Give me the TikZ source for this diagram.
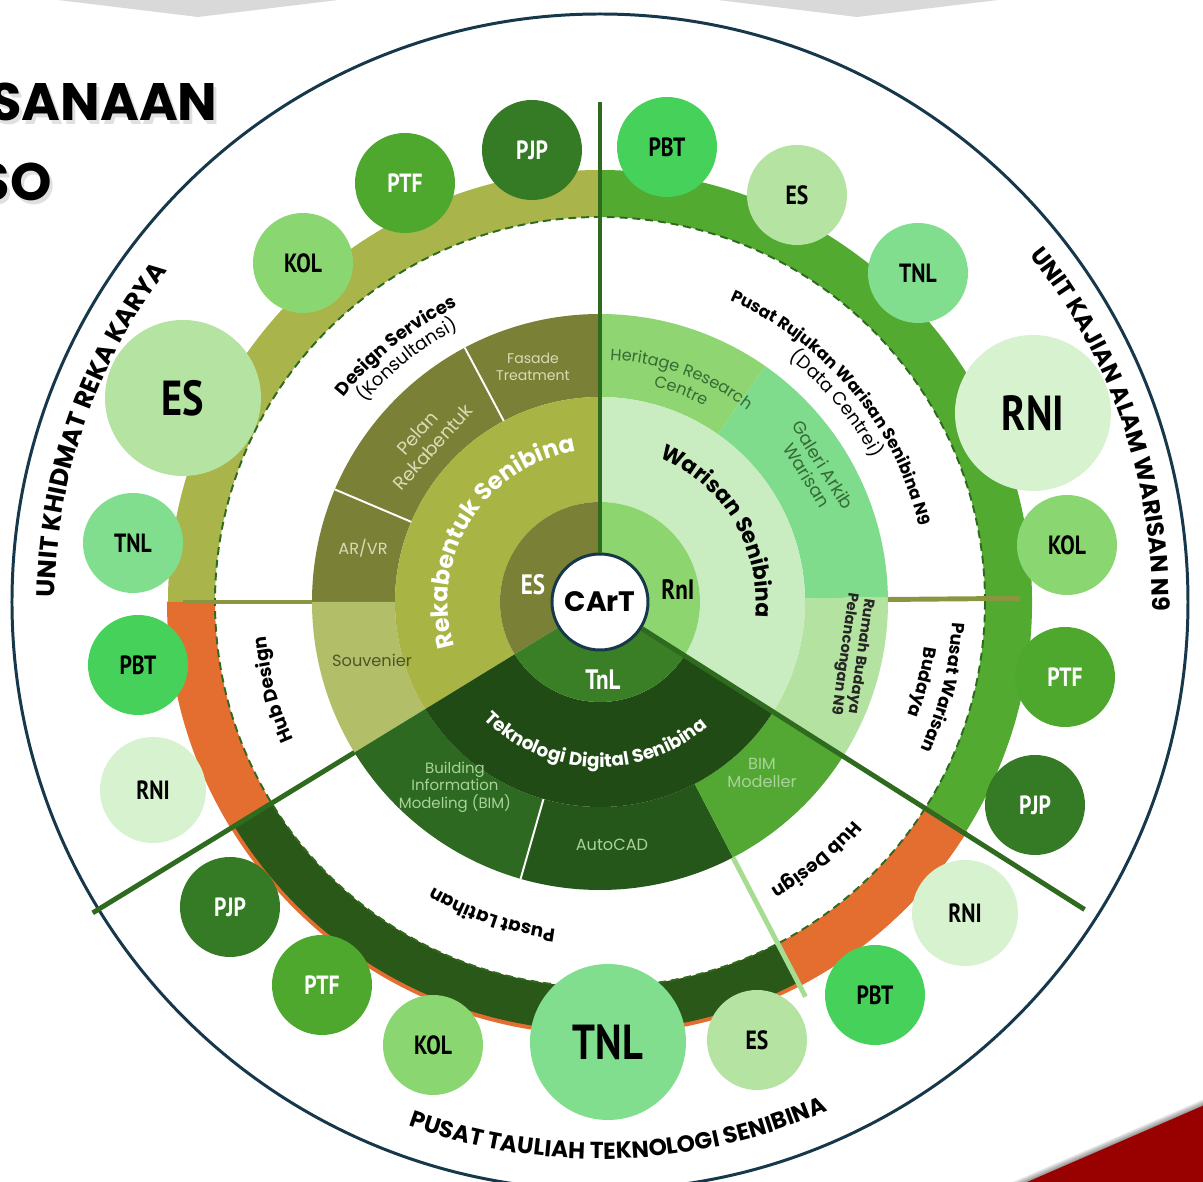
\documentclass[tikz,border=0pt]{standalone}
\usepackage{fontspec}
\setmainfont{Poppins}
\newfontfamily\bubblefont{PT Sans}[FakeStretch=0.82]
\usetikzlibrary{decorations.text}

\definecolor{olivedark}{HTML}{7A8035}
\definecolor{olivemid}{HTML}{A8B545}
\definecolor{olivelight}{HTML}{B3BE68}
\definecolor{olivetext}{HTML}{DADCB6}
\definecolor{olivetextdark}{HTML}{4E5628}
\definecolor{tekdeep}{HTML}{214B15}
\definecolor{tekbuild}{HTML}{2D6920}
\definecolor{tekcad}{HTML}{26571A}
\definecolor{tekcore}{HTML}{3A7E26}
\definecolor{tekbim}{HTML}{52A832}
\definecolor{tektext}{HTML}{A8D39A}
\definecolor{wrcore}{HTML}{8DD56F}
\definecolor{wrpale}{HTML}{C9ECC0}
\definecolor{wrheritage}{HTML}{8FD571}
\definecolor{wrgaleri}{HTML}{7FDC8C}
\definecolor{wrrumah}{HTML}{B4E2A1}
\definecolor{wrtext}{HTML}{356B35}
\definecolor{ringolive}{HTML}{A9B54A}
\definecolor{ringgreen}{HTML}{52AA30}
\definecolor{ringorange}{HTML}{E36E30}
\definecolor{ringdark}{HTML}{2A5818}
\definecolor{splitgreen}{HTML}{2F6B1F}
\definecolor{splitolive}{HTML}{8B9540}
\definecolor{splitpale}{HTML}{A6DD92}
\definecolor{rimline}{HTML}{17384A}
\definecolor{cpjp}{HTML}{357A24}
\definecolor{cptf}{HTML}{4FA82E}
\definecolor{ckol}{HTML}{8AD670}
\definecolor{ces}{HTML}{B4E3A2}
\definecolor{ctnl}{HTML}{80DE8E}
\definecolor{cpbt}{HTML}{46D15B}
\definecolor{crni}{HTML}{D6F2CF}
\definecolor{banner}{HTML}{D9D9D9}
\definecolor{cornerred}{HTML}{990000}

% ring piece: colour, inner radius, outer radius, from angle, to angle
\newcommand\ringpart[5]{%
  \fill[#1] (#4:#3) arc[start angle=#4, end angle=#5, radius=#3]
    -- (#5:#2) arc[start angle=#5, end angle=#4, radius=#2] -- cycle;}

\tikzset{
  bubble/.style={circle, inner sep=0pt, minimum size=2cm,
    font=\bubblefont\bfseries\fontsize{15}{15}\selectfont},
  big bubble/.style={minimum size=3.12cm,
    font=\bubblefont\bfseries\fontsize{28}{28}\selectfont},
  b PJP/.style={fill=cpjp, text=white},
  b PTF/.style={fill=cptf, text=white},
  b KOL/.style={fill=ckol},
  b ES/.style={fill=ces},
  b TNL/.style={fill=ctnl},
  b PBT/.style={fill=cpbt},
  b RNI/.style={fill=crni},
  karya 4/.style={big bubble},
  karya 7/.style={minimum size=2.12cm},
  kajian 4/.style={big bubble},
  kajian 8/.style={minimum size=2.12cm},
  tauliah 2/.style={big bubble},
  divider/.style={line width=2.8pt, splitgreen},
  along/.style 2 args={decorate, decoration={text along path,
    text align=center, text color=#1, text={#2}}},
  subitem/.style={align=center, inner sep=0pt,
    font=\fontsize{9.2}{10.5}\selectfont},
  core/.style={font=\bubblefont\bfseries\fontsize{16}{16}\selectfont},
  heading/.style={anchor=east, inner sep=0pt,
    font=\bfseries\fontsize{30}{30}\selectfont},
}

\begin{document}
\begin{tikzpicture}[scale=0.2]
\useasboundingbox (-60,-58) rectangle (60.3,60.2);
\clip (-60,-58) rectangle (60.3,60.2);
\fill[white] (-60,-58) rectangle (60.3,60.2);

% slide decoration
\fill[banner] (-54.2,61) -- (-54.2,60.2) -- (-40.2,58.5) -- (-26.2,60.2) -- (-26.2,61) -- cycle;
\fill[banner] (11.8,61) -- (11.8,60.2) -- (25.7,58.5) -- (39.8,60.2) -- (39.8,61) -- cycle;
\foreach \k in {1,...,12}
  \fill[black, opacity=0.04, xshift={-0.2mm*\k}, yshift={0.46mm*\k}]
    (34.65,-61.5) -- (63.7,-48.9) -- (63.7,-62) -- cycle;
\fill[cornerred] (34.65,-61.5) -- (63.7,-48.9) -- (63.7,-62) -- cycle;

\node[heading, text=black!40, opacity=0.3] (title-shadow-1) at (-37.9,49.6) {SANAAN};
\node[heading, text=black!40, opacity=0.3] (title-shadow-2) at (-54.5,41.6) {SO};
\node[heading] (title-1) at (-38.2,50) {SANAAN};
\node[heading] (title-2) at (-54.8,42) {SO};

% outer rim
\draw[rimline, line width=1.7pt] (0,0) circle[radius=58.8];

% band of the three units
\ringpart{ringolive}{38.5}{43.2}{90}{180}
\ringpart{ringorange}{38.5}{43.3}{180}{328}
\ringpart{ringdark}{38.5}{42.9}{211.5}{297.5}
\ringpart{ringgreen}{38.5}{43.2}{-32}{90}
\draw[splitgreen, line width=1.1pt, dash pattern=on 4.5pt off 2.8pt] (0,0) circle[radius=38.5];

% services ring
\ringpart{olivedark}{20.5}{28.8}{90}{180}
\ringpart{olivelight}{20.5}{28.8}{180}{211.5}
\ringpart{tekbuild}{20.5}{28.8}{211.5}{254}
\ringpart{tekcad}{20.5}{28.8}{254}{297.5}
\ringpart{tekbim}{20.5}{28.8}{297.5}{328}
\ringpart{wrrumah}{20.5}{28.8}{-32}{1}
\ringpart{wrgaleri}{20.5}{28.8}{1}{55}
\ringpart{wrheritage}{20.5}{28.8}{55}{90}

% main ring
\ringpart{olivemid}{10}{20.5}{90}{211.5}
\ringpart{tekdeep}{10}{20.5}{211.5}{328}
\ringpart{wrpale}{10}{20.5}{-32}{90}

% core ring
\ringpart{olivedark}{4}{10}{90}{211.5}
\ringpart{tekcore}{4}{10}{211.5}{328}
\ringpart{wrcore}{4}{10}{-32}{90}

\foreach \a in {118,157,254}
  \draw[white, line width=1.1pt] (\a:20.5) -- (\a:28.8);

\node[circle, fill=white, draw=rimline, line width=1.7pt, minimum size=1.92cm,
  inner sep=0pt, font=\bfseries\fontsize{16}{16}\selectfont] (cart) at (0,0) {CArT};

\coordinate (cut-top) at (90:50);
\coordinate (cut-right) at (-32.4:57.4);
\coordinate (cut-left-in) at (211.5:28.8);
\coordinate (cut-left-out) at (211.5:59.5);
\coordinate (olive-l-in) at (180:28.8);
\coordinate (olive-l-out) at (180:41.7);
\coordinate (olive-r-in) at (0.5:28.8);
\coordinate (olive-r-out) at (0.5:42);
\coordinate (pale-in) at (297.5:28.8);
\coordinate (pale-out) at (297.5:44.5);
\draw[divider] (cart) -- (cut-top);
\draw[divider] (cart) -- (cut-right);
\draw[divider] (cut-left-in) -- (cut-left-out);
\draw[divider, splitolive] (olive-l-in) -- (olive-l-out);
\draw[divider, splitolive] (olive-r-in) -- (olive-r-out);
\draw[divider, splitpale] (pale-in) -- (pale-out);

% ring titles
\path[along={white}{|\bfseries\fontsize{13.5}{13.5}\selectfont|Rekabentuk Senibina}]
  (213:15.2) arc[start angle=213, end angle=83, radius=15.2];
\path[along={black}{|\bfseries\fontsize{12.5}{12.5}\selectfont|Warisan Senibina}]
  (96:15.6) arc[start angle=96, end angle=-34, radius=15.6];
\path[along={white}{|\bfseries\fontsize{10.5}{10.5}\selectfont|Teknologi Digital Senibina}]
  (198:16.5) arc[start angle=198, end angle=338, radius=16.5];

% centres
\path[along={black}{|\bfseries\fontsize{10.3}{10.3}\selectfont|Design Services}]
  (170:32.8) arc[start angle=170, end angle=87, radius=32.8];
\path[along={black}{|\fontsize{10.3}{10.3}\selectfont|(Konsultansi)}]
  (170:30.8) arc[start angle=170, end angle=87, radius=30.8];
\path[along={black}{|\bfseries\fontsize{9.5}{9.5}\selectfont|Pusat Rujukan Warisan Senibina N9}]
  (100:32.8) arc[start angle=100, end angle=-20, radius=32.8];
\path[along={black}{|\fontsize{10.3}{10.3}\selectfont|(Data Centrei)}]
  (100:30.8) arc[start angle=100, end angle=-20, radius=30.8];
\path[along={black}{|\bfseries\fontsize{10.5}{10.5}\selectfont|Hub Design}]
  (225:33.6) arc[start angle=225, end angle=165, radius=33.6];
\path[along={black}{|\bfseries\fontsize{10}{10}\selectfont|Pusat Warisan}]
  (16:35.3) arc[start angle=16, end angle=-44, radius=35.3];
\path[along={black}{|\bfseries\fontsize{10}{10}\selectfont|Budaya}]
  (16:32.8) arc[start angle=16, end angle=-44, radius=32.8];
\path[along={black}{|\bfseries\fontsize{10.5}{10.5}\selectfont|Pusat Latihan}]
  (281:33) arc[start angle=281, end angle=221, radius=33];
\path[along={black}{|\bfseries\fontsize{10.5}{10.5}\selectfont|Hub Design}]
  (-20:33.4) arc[start angle=-20, end angle=-80, radius=33.4];

% units
\path[along={black}{|\bfseries\fontsize{14.5}{14.5}\selectfont|UNIT KHIDMAT REKA KARYA}]
  (200:54.5) arc[start angle=200, end angle=122, radius=54.5];
\path[along={black}{|\bfseries\fontsize{13.6}{13.6}\selectfont|UNIT KAJIAN ALAM WARISAN N9}]
  (58:55.2) arc[start angle=58, end angle=-20, radius=55.2];
\path[along={black}{|\bfseries\fontsize{13.2}{13.2}\selectfont|PUSAT TAULIAH TEKNOLOGI SENIBINA}]
  (230:55.7) arc[start angle=230, end angle=314, radius=55.7];

% services
\path[along={wrtext}{|\fontsize{9.2}{9.2}\selectfont|Heritage Research}]
  (110:24.2) arc[start angle=110, end angle=30, radius=24.2];
\path[along={wrtext}{|\fontsize{9.2}{9.2}\selectfont|Centre}]
  (109:22.2) arc[start angle=109, end angle=29, radius=22.2];
\node[subitem, text=olivetext, font=\fontsize{8}{9.5}\selectfont] (fasade) at (-6.7,23.5) {Fasade\\Treatment};
\node[subitem, text=olivetext, font=\fontsize{10.5}{12}\selectfont, rotate=48] (pelan) at (-17.5,16.2) {Pelan\\Rekabentuk};
\node[subitem, text=olivetext] (arvr) at (-23.7,5.4) {AR/VR};
\node[subitem, text=olivetextdark] (souvenier) at (-22.8,-5.8) {Souvenier};
\node[subitem, text=tektext, font=\fontsize{8.5}{10}\selectfont] (bim-info) at (-14.5,-18.5) {Building\\Information\\Modeling (BIM)};
\node[subitem, text=tektext] (autocad) at (1.2,-24.3) {AutoCAD};
\node[subitem, text=tektext] (bim-mod) at (16.2,-17.1) {BIM\\Modeller};
\node[subitem, text=wrtext, font=\fontsize{10}{11}\selectfont, rotate=-58] (galeri) at (21.5,13.2) {Galeri Arkib\\Warisan};
\node[subitem, text=black!85, font=\bfseries\fontsize{8.3}{9.5}\selectfont, rotate=-98] (rumah) at (25.2,-5.3) {Rumah Budaya\\Pelancongan N9};

\node[core, text=white] (es-core) at (-6.7,1.7) {ES};
\node[core] (rni-core) at (7.8,1.2) {RnI};
\node[core, text=white] (tnl-core) at (0.3,-7.8) {TnL};

% bubbles
\foreach \t/\x/\y [count=\i] in {PJP/-6.8/45.2, PTF/-19.5/41.9, KOL/-29.7/33.9,
    ES/-41.7/20.4, TNL/-46.7/5.9, PBT/-46.2/-6.3, RNI/-44.7/-18.8}
  \node[bubble, b \t, karya \i/.try] (karya-\i) at (\x,\y) {\t};
\foreach \t/\x/\y [count=\i] in {PBT/6.7/45.5, ES/19.7/40.7, TNL/31.8/32.9,
    RNI/43.3/18.9, KOL/46.7/5.7, PTF/46.5/-7.5, PJP/43.5/-20.3, RNI/36.5/-31.1, PBT/27.5/-39.3}
  \node[bubble, b \t, kajian \i/.try] (kajian-\i) at (\x,\y) {\t};
\foreach \t/\x/\y [count=\i] in {ES/15.7/-43.8, TNL/0.8/-44, KOL/-16.7/-44.3,
    PTF/-27.8/-38.3, PJP/-37/-30.5}
  \node[bubble, b \t, tauliah \i/.try] (tauliah-\i) at (\x,\y) {\t};
\end{tikzpicture}
\end{document}
